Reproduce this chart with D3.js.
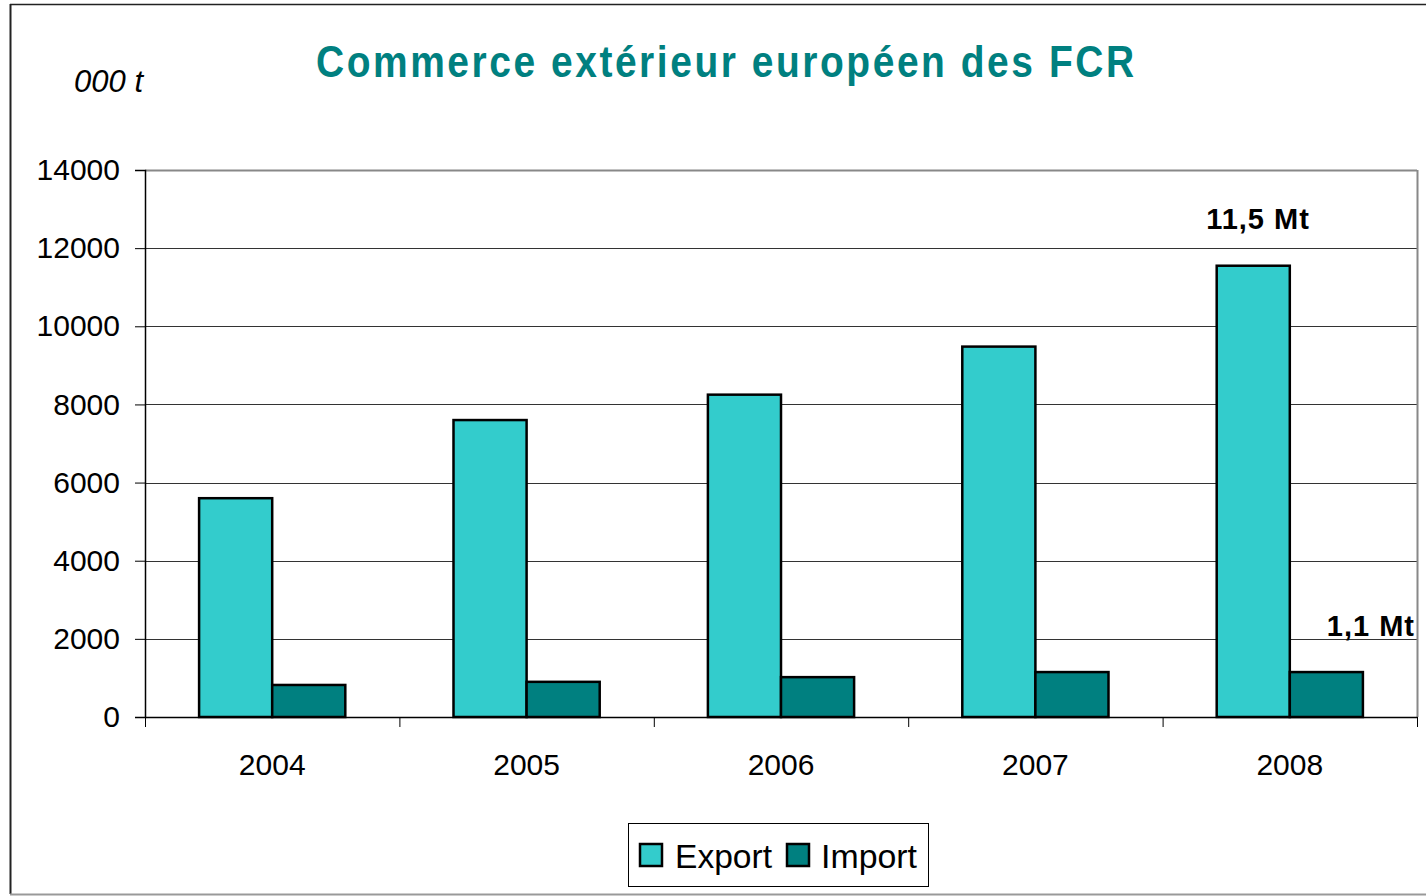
<!DOCTYPE html>
<html>
<head>
<meta charset="utf-8">
<script src="https://cdn.jsdelivr.net/npm/d3@7"></script>
<style>
  body { margin: 0; background: #fff; }
  svg { display: block; font-family: "Liberation Sans", Arial, sans-serif; }
</style>
</head>
<body>
<svg id="chart" width="1426" height="896"></svg>
<script>
// data (000 t)
const years = ['2004', '2005', '2006', '2007', '2008'];
const exportValues = [5600, 7600, 8250, 9480, 11550];
const importValues = [820, 900, 1020, 1150, 1150];
const seriesNames = ['Export', 'Import'];
const yTicks = [0, 2000, 4000, 6000, 8000, 10000, 12000, 14000];

const colors = { Export: '#33CCCC', Import: '#008080' };

const svg = d3.select('#chart');
// plot area bounds
const margin = { left: 145, right: 1417, top: 170, bottom: 717 };

// outer chart frame
svg.append('line').attr('x1', 10.5).attr('x2', 10.5).attr('y1', 4).attr('y2', 894)
  .attr('stroke', '#222').attr('stroke-width', 2);
svg.append('line').attr('x1', 10).attr('x2', 1426).attr('y1', 4.5).attr('y2', 4.5)
  .attr('stroke', '#222').attr('stroke-width', 1.5);
svg.append('line').attr('x1', 10).attr('x2', 1426).attr('y1', 894.5).attr('y2', 894.5)
  .attr('stroke', '#999').attr('stroke-width', 2);

const x = d3.scaleBand()
  .domain(years)
  .range([margin.left, margin.right])
  .paddingInner(0)
  .paddingOuter(0);

// two bars side by side in the middle of each year band
const xInner = d3.scaleBand()
  .domain(seriesNames)
  .range([0, x.bandwidth()])
  .paddingOuter(0.74)
  .paddingInner(0);

const y = d3.scaleLinear()
  .domain([0, 14000])
  .range([margin.bottom, margin.top]);

// gridlines
svg.append('g')
  .selectAll('line')
  .data(yTicks.slice(1))
  .enter()
  .append('line')
  .attr('x1', margin.left)
  .attr('x2', margin.right)
  .attr('y1', d => Math.round(y(d)) + 0.5)
  .attr('y2', d => Math.round(y(d)) + 0.5)
  .attr('stroke', d => d === 14000 ? '#888' : '#333')
  .attr('stroke-width', d => d === 14000 ? 2 : 1);

// right border of plot area
svg.append('line')
  .attr('x1', margin.right + 0.5).attr('x2', margin.right + 0.5)
  .attr('y1', margin.top).attr('y2', margin.bottom)
  .attr('stroke', '#888').attr('stroke-width', 2);

// bars
const rows = years.map((yr, i) => ({ year: yr, Export: exportValues[i], Import: importValues[i] }));

svg.append('g')
  .selectAll('g')
  .data(rows)
  .enter()
  .append('g')
  .attr('transform', d => `translate(${x(d.year)},0)`)
  .selectAll('rect')
  .data(d => seriesNames.map(s => ({ key: s, value: d[s] })))
  .enter()
  .append('rect')
  .attr('x', d => xInner(d.key))
  .attr('y', d => y(d.value))
  .attr('width', xInner.bandwidth())
  .attr('height', d => y(0) - y(d.value))
  .attr('fill', d => colors[d.key])
  .attr('stroke', '#000')
  .attr('stroke-width', 2.5);

// y axis
const yAxis = svg.append('g')
  .attr('transform', `translate(${margin.left},0)`)
  .call(d3.axisLeft(y).tickValues(yTicks).tickSize(10).tickPadding(15).tickFormat(d3.format('d')));
yAxis.selectAll('text').attr('font-size', 30).attr('fill', '#000')
  .style('font-family', '"Liberation Sans", Arial, sans-serif');
yAxis.select('.domain').attr('stroke', '#000').attr('stroke-width', 1.5);
yAxis.selectAll('.tick line').attr('stroke', '#000');

// x axis
const xAxis = svg.append('g')
  .attr('transform', `translate(0,${margin.bottom})`)
  .call(d3.axisBottom(x).tickSize(0).tickPadding(37));
xAxis.selectAll('text').attr('font-size', 30).attr('fill', '#000')
  .style('font-family', '"Liberation Sans", Arial, sans-serif');
xAxis.select('.domain').attr('stroke', '#000').attr('stroke-width', 1.5);

// category boundary ticks
svg.append('g')
  .selectAll('line')
  .data(years.map(yr => x(yr)).concat([margin.right]))
  .enter()
  .append('line')
  .attr('x1', d => d + 0.5).attr('x2', d => d + 0.5)
  .attr('y1', margin.bottom).attr('y2', margin.bottom + 10)
  .attr('stroke', '#000');

// title: narrow glyphs, wide letter spacing
svg.append('text')
  .attr('transform', 'translate(316,77) scale(0.885,1)')
  .attr('textLength', 818 / 0.885)
  .attr('lengthAdjust', 'spacing')
  .attr('font-size', 44)
  .attr('font-weight', 'bold')
  .attr('fill', '#008080')
  .text('Commerce extérieur européen des FCR');

// unit label
svg.append('text')
  .attr('x', 143)
  .attr('y', 92)
  .attr('text-anchor', 'end')
  .attr('font-size', 31)
  .attr('font-style', 'italic')
  .text('000 t');

// annotations
svg.append('text')
  .attr('x', 1258)
  .attr('y', 229)
  .attr('text-anchor', 'middle')
  .attr('font-size', 29)
  .attr('font-weight', 'bold')
  .attr('letter-spacing', 1)
  .text('11,5 Mt');

svg.append('text')
  .attr('x', 1415)
  .attr('y', 636)
  .attr('text-anchor', 'end')
  .attr('font-size', 29)
  .attr('font-weight', 'bold')
  .attr('letter-spacing', 1)
  .text('1,1 Mt');

// legend
const legend = svg.append('g');
legend.append('rect')
  .attr('x', 628.5).attr('y', 823.5).attr('width', 300).attr('height', 63)
  .attr('fill', '#fff').attr('stroke', '#000').attr('stroke-width', 1);

const legendItems = [
  { key: 'Export', sx: 640, tx: 675 },
  { key: 'Import', sx: 787, tx: 821 }
];
legend.selectAll('g.item')
  .data(legendItems)
  .enter()
  .append('g')
  .attr('class', 'item')
  .each(function (d) {
    const g = d3.select(this);
    g.append('rect')
      .attr('x', d.sx).attr('y', 844).attr('width', 22).attr('height', 22)
      .attr('fill', colors[d.key]).attr('stroke', '#000').attr('stroke-width', 2.5);
    g.append('text')
      .attr('x', d.tx).attr('y', 868)
      .attr('font-size', 34)
      .attr('textLength', d.key === 'Export' ? 97 : 96)
      .attr('lengthAdjust', 'spacingAndGlyphs')
      .text(d.key);
  });
</script>
</body>
</html>
